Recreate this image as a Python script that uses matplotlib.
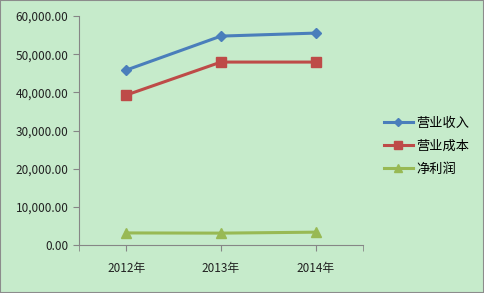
import matplotlib.pyplot as plt
from matplotlib.ticker import FuncFormatter

plt.rcParams['font.family'] = ['Noto Sans CJK SC', 'DejaVu Sans']

years = ['2012年', '2013年', '2014年']
revenue = [45850, 54760, 55550]
cost = [39300, 47950, 47950]
profit = [3150, 3100, 3350]

bg = '#C6EBCB'
fig = plt.figure(figsize=(4.84, 2.93), dpi=100, facecolor=bg)
ax = fig.add_axes([0.163, 0.164, 0.587, 0.781], facecolor=bg)

x = range(len(years))
ax.plot(x, revenue, color='#4A7EBB', lw=2.2, marker='D', ms=5, label='营业收入')
ax.plot(x, cost, color='#BE4B48', lw=2.2, marker='s', ms=7, label='营业成本')
ax.plot(x, profit, color='#98B954', lw=2.2, marker='^', ms=7, label='净利润')

ax.set_xlim(-0.5, 2.5)
ax.set_ylim(0, 60000)
ax.set_yticks(range(0, 60001, 10000))
ax.yaxis.set_major_formatter(FuncFormatter(lambda v, p: f'{v:,.2f}'))
ax.set_xticks(list(x))
ax.set_xticklabels(years)
ax.set_xticks([-0.5, 2.5], minor=True)

for s in ['top', 'right']:
    ax.spines[s].set_visible(False)
for s in ['left', 'bottom']:
    ax.spines[s].set_color('#868686')
ax.tick_params(axis='both', which='both', color='#868686', length=4, labelsize=8.5, labelcolor='#222222')
ax.tick_params(axis='x', pad=8)

leg = fig.legend(loc='center left', bbox_to_anchor=(0.768, 0.50), frameon=False,
                 fontsize=9.5, handlelength=2.2, labelspacing=0.75, handletextpad=0.3,
                 markerscale=0.85)

fig.patches.append(plt.Rectangle((0, 0), 1, 1, transform=fig.transFigure, fill=False,
                                 edgecolor='#8C8C8C', lw=1.5))
fig.savefig('out.png', dpi=100, facecolor=bg)
